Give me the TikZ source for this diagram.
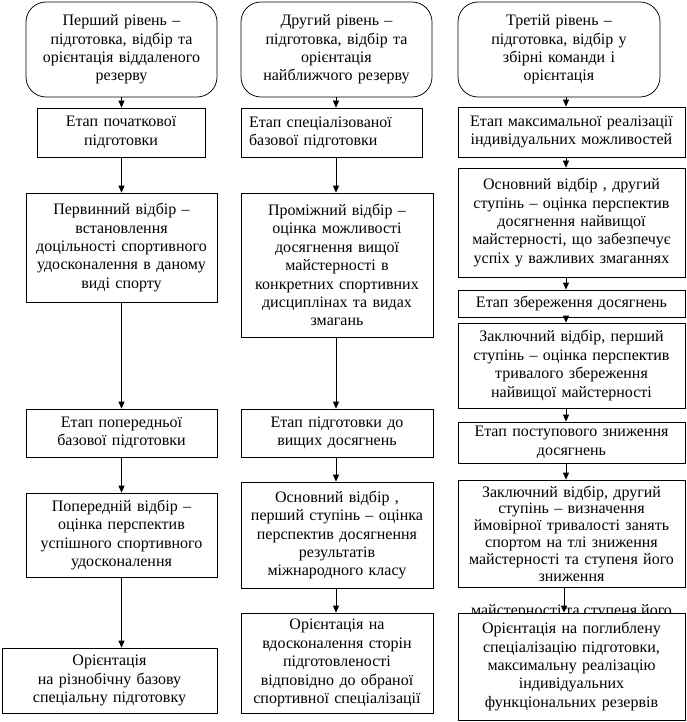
\documentclass[tikz,border=0pt]{standalone}
\usepackage{fontspec}
\setmainfont{Liberation Serif}
\usetikzlibrary{arrows.meta}
\tikzset{
  bx/.style={draw, fill=white, line width=0.75pt, align=center, inner xsep=2pt, inner ysep=1pt,
    font={\fontsize{16}{18.4}\selectfont}},
  rbx/.style={bx, rounded corners=20pt},
  arr/.style={line width=0.75pt, -{Triangle[length=7pt,width=6pt]}},
  stray/.style={font={\fontsize{16}{18.4}\selectfont}, inner sep=0pt, anchor=base}
}
\begin{document}
\begin{tikzpicture}[x=1pt,y=-1pt]
\useasboundingbox[fill=white] (0,0) rectangle (686,722);
\coordinate (ax1) at (121.5,0);
\coordinate (ax2) at (336,0);
\coordinate (ax3) at (566,0);
\coordinate (ax3b) at (564,0);
% column 1
\node[rbx, text width=187pt, minimum height=95pt] (r1) at (121.5,49.5) {Перший рівень –\\ підготовка, відбір та\\ орієнтація віддаленого\\ резерву};
\node[bx, text width=164pt, minimum height=49pt] (e1a) at (121,132.5) {Етап початкової\\ підготовки};
\node[bx, text width=187pt, minimum height=109pt] (s1a) at (121.5,247.5) {Первинний відбір –\\ встановлення\\ доцільності спортивного\\ удосконалення в даному\\ виді спорту};
\node[bx, text width=187pt, minimum height=48pt] (e1b) at (121.5,433) {Етап попередньої\\ базової підготовки};
\node[bx, text width=187pt, minimum height=84pt] (s1b) at (121.5,535) {Попередній відбір –\\ оцінка перспектив\\ успішного спортивного\\ удосконалення};
\node[bx, text width=211pt, minimum height=65pt] (o1) at (109.5,680.5) {Орієнтація\\ на різнобічну базову\\ спеціальну підготовку};
% column 2
\node[rbx, text width=187pt, minimum height=95pt] (r2) at (336.5,49.5) {Другий рівень –\\ підготовка, відбір та\\ орієнтація\\ найближчого резерву};
\node[bx, align=left, inner xsep=8pt, text width=165pt, minimum height=49pt] (e2a) at (331.5,132.5) {Етап спеціалізованої\\ базової підготовки};
\node[bx, text width=188pt, minimum height=144pt] (s2a) at (337,265) {Проміжний відбір –\\ оцінка можливості\\ досягнення вищої\\ майстерності в\\ конкретних спортивних\\ дисциплінах та видах\\ змагань};
\node[bx, text width=188pt, minimum height=48pt] (e2b) at (337,433) {Етап підготовки до\\ вищих досягнень};
\node[bx, text width=188pt, minimum height=106pt] (s2b) at (337,535) {Основний відбір ,\\ перший ступінь – оцінка\\ перспектив досягнення\\ результатів\\ міжнародного класу};
\node[bx, text width=188pt, minimum height=100pt] (o2) at (337,663) {Орієнтація на\\ вдосконалення сторін\\ підготовленості\\ відповідно до обраної\\ спортивної спеціалізації};
% column 3
\node[rbx, text width=198pt, minimum height=95pt] (r3) at (559,49.5) {Третій рівень –\\ підготовка, відбір у\\ збірні команди і\\ орієнтація};
\node[bx, text width=223pt, minimum height=50pt] (e3a) at (571.5,132) {Етап максимальної реалізації\\ індивідуальних можливостей};
\node[bx, text width=223pt, minimum height=109pt] (s3a) at (571.5,222.5) {Основний відбір , другий\\ ступінь – оцінка перспектив\\ досягнення найвищої\\ майстерності, що забезпечує\\ успіх у важливих змаганнях};
\node[bx, text width=223pt, minimum height=27pt] (e3b) at (571.5,303.5) {Етап збереження досягнень};
\node[bx, text width=223pt, minimum height=85pt] (s3b) at (571.5,365.5) {Заключний відбір, перший\\ ступінь – оцінка перспектив\\ тривалого збереження\\ найвищої майстерності};
\node[bx, text width=223pt, minimum height=41pt] (e3c) at (571.5,442.5) {Етап поступового зниження\\ досягнень};
\node[bx, font={\fontsize{16}{16.8}\selectfont}, text width=223pt, minimum height=107pt] (s3c) at (571.5,533.5) {Заключний відбір, другий\\ ступінь – визначення\\ ймовірної тривалості занять\\ спортом на тлі зниження\\ майстерності та ступеня його\\ зниження};
\node[stray] (st) at (571.5,615) {майстерності та ступеня його};
\node[bx, text width=223pt, minimum height=107pt] (o3) at (571.5,666.5) {Орієнтація на поглиблену\\ спеціалізацію підготовки,\\ максимальну реалізацію\\ індивідуальних\\ функціональних резервів};
% arrows column 1
\draw[arr] (r1.south -| ax1) -- (e1a.north -| ax1);
\draw[arr] (e1a.south -| ax1) -- (s1a.north -| ax1);
\draw[arr] (s1a.south -| ax1) -- (e1b.north -| ax1);
\draw[arr] (e1b.south -| ax1) -- (s1b.north -| ax1);
\draw[arr] (s1b.south -| ax1) -- (o1.north -| ax1);
% arrows column 2
\draw[arr] (r2.south -| ax2) -- (e2a.north -| ax2);
\draw[arr] (e2a.south -| ax2) -- (s2a.north -| ax2);
\draw[arr] (s2a.south -| ax2) -- (e2b.north -| ax2);
\draw[arr] (e2b.south -| ax2) -- (s2b.north -| ax2);
\draw[arr] (s2b.south -| ax2) -- (o2.north -| ax2);
% arrows column 3
\draw[arr] (r3.south -| ax3) -- (e3a.north -| ax3);
\draw[arr] (e3a.south -| ax3) -- (s3a.north -| ax3);
\draw[arr] (s3a.south -| ax3) -- (e3b.north -| ax3);
\draw[arr] (e3b.south -| ax3) -- (s3b.north -| ax3);
\draw[arr] (s3b.south -| ax3) -- (e3c.north -| ax3);
\draw[arr] (e3c.south -| ax3) -- (s3c.north -| ax3);
\draw[arr] (s3c.south -| ax3b) -- (o3.north -| ax3b);
\end{tikzpicture}
\end{document}
